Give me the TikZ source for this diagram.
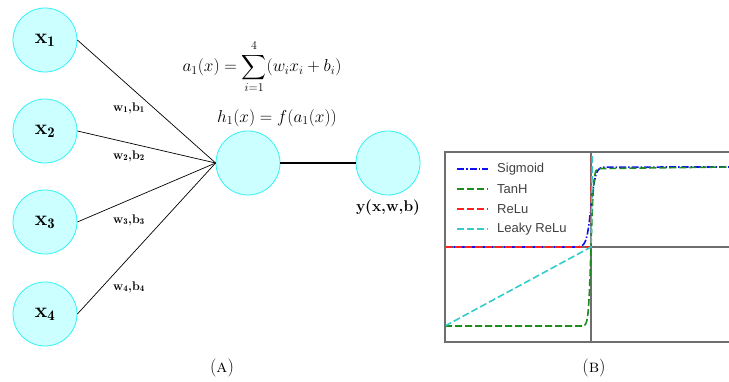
\documentclass[tikz,border=0pt]{standalone}
\usepackage{amsmath}
\usepackage{fontspec}
\newfontfamily\plotfont{Liberation Sans}
\usetikzlibrary{positioning}

\definecolor{nodefill}{HTML}{CCFFFF}
\definecolor{nodeline}{HTML}{33F2F2}
\definecolor{axisgray}{HTML}{6E6E6E}
\definecolor{sigblue}{HTML}{1010F0}
\definecolor{tanhgreen}{HTML}{1E8C1E}
\definecolor{relured}{HTML}{FF2020}
\definecolor{leakycyan}{HTML}{33CCCC}

\tikzset{
  neuron/.style={circle, draw=nodeline, fill=nodefill, line width=0.8pt,
    minimum size=64pt, inner sep=0pt},
  inlabel/.style={font=\fontsize{21}{22}\selectfont\bfseries},
  wlabel/.style={font=\fontsize{12.5}{13}\selectfont\bfseries, inner sep=0pt},
  eqlabel/.style={font=\fontsize{18.5}{20}\selectfont, inner sep=0pt},
  caplabel/.style={font=\fontsize{18}{19}\selectfont},
  axisline/.style={axisgray, line width=1.2pt},
  sigline/.style={sigblue, line width=1.6pt, dash pattern=on 7pt off 2pt on 1.5pt off 2pt},
  tanhline/.style={tanhgreen, line width=1.6pt, dash pattern=on 7pt off 3pt},
  reluline/.style={relured, line width=1.6pt, dash pattern=on 7pt off 3pt},
  leakyline/.style={leakycyan, line width=1.6pt, dash pattern=on 7pt off 3pt},
  legtext/.style={font=\plotfont\fontsize{13}{14}\selectfont, text=black!75, anchor=west, inner sep=0pt}
}

\begin{document}
\begin{tikzpicture}[x=1pt,y=-1pt]
\useasboundingbox (0,0) rectangle (729,382);

% -----------------------------
% Network (A)
% -----------------------------
\node[neuron] (x1) at (45,40)  {};
\node[neuron] (x2) at (45,131) {};
\node[neuron] (x3) at (45,222) {};
\node[neuron] (x4) at (45,314) {};
\node[inlabel] at (x1) {x$_{\mathbf{1}}$};
\node[inlabel] at (x2) {x$_{\mathbf{2}}$};
\node[inlabel] at (x3) {x$_{\mathbf{3}}$};
\node[inlabel] at (x4) {x$_{\mathbf{4}}$};

\node[neuron] (h1)  at (248,163) {};
\node[neuron] (out) at (388,163) {};

% inputs into the hidden unit
\foreach \i in {1,...,4} {
    \draw[line width=0.7pt] (x\i.east) -- (h1.west);
}
\draw[line width=2.4pt] (h1.east) -- (out.west);

% weights and biases
\node[wlabel] (wb1) at (129,108) {w$_{\mathbf 1}$,b$_{\mathbf 1}$};
\node[wlabel] (wb2) at (129,156) {w$_{\mathbf 2}$,b$_{\mathbf 2}$};
\node[wlabel] (wb3) at (129,220) {w$_{\mathbf 3}$,b$_{\mathbf 3}$};
\node[wlabel] (wb4) at (129,287) {w$_{\mathbf 4}$,b$_{\mathbf 4}$};

% formulas
\node[eqlabel] (eqa) at (262,67) {$\displaystyle a_1(x)=\sum_{i=1}^{4}(w_i x_i+b_i)$};
\node[eqlabel] (eqh) at (277,118) {$h_1(x)=f(a_1(x))$};
\node[font=\fontsize{15.5}{17}\selectfont\bfseries] (ylab) at (388,208) {y(x,w,b)};

\node[caplabel] (capA) at (222,368) {(\textsc{a})};

% -----------------------------
% Activation functions (B)
% -----------------------------
\begin{scope}
  \clip (445,152) rectangle (729,342);
  \draw[axisline] (591,152) -- (591,342);
  \draw[axisline] (445,247) -- (729,247);
  % sigmoid
  \draw[sigline] (445,247) -- (578,247)
     -- plot[domain=578:606, samples=40] (\x, {247-80/(1+exp(-0.45*(\x-591)))})
     -- (729,167);
  % tanh
  \draw[tanhline] (445,326) -- (584,326)
     -- plot[domain=584:598, samples=40] (\x, {247-79*tanh(0.4*(\x-591))})
     -- (729,167);
  % relu
  \draw[reluline] (445,247) -- (591,247) -- (591.5,140);
  % leaky relu
  \draw[leakyline] (445,326) -- (591,247) -- (592.5,140);
\end{scope}
\draw[axisline] (729,152) -- (445,152) -- (445,342) -- (729,342);

% legend
\foreach \y/\sty/\name in {169/sigline/Sigmoid, 189/tanhline/TanH,
                           209/reluline/ReLu, 229/leakyline/Leaky ReLu} {
    \draw[\sty] (457,\y) -- (488,\y);
    \node[legtext] at (497,\y) {\name};
}

\node[caplabel] (capB) at (594,368) {(\textsc{b})};

\end{tikzpicture}
\end{document}
